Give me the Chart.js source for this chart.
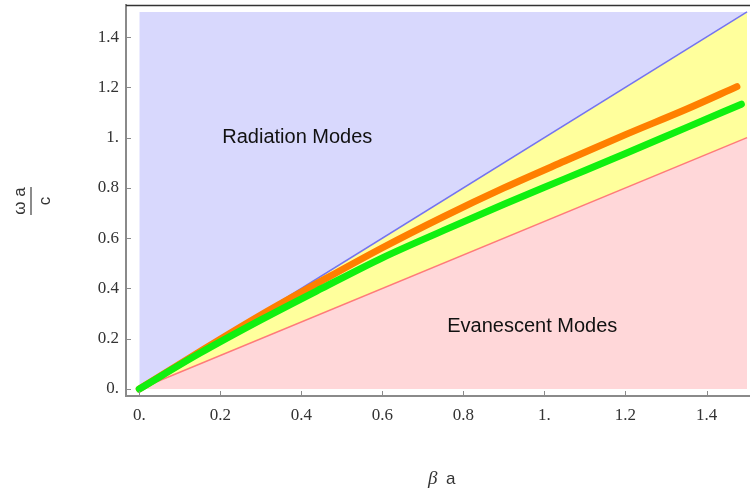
<!DOCTYPE html>
<html>
<head>
<meta charset="utf-8">
<script src="https://cdn.jsdelivr.net/npm/chart.js@4"></script>
<style>
  body { margin: 0; background: #fff; }
  canvas { display: block; }
</style>
</head>
<body>
<canvas id="modeChart" width="750" height="493"></canvas>
<script>
// Axis ticks (Mathematica style labels)
const tickValues = [0, 0.2, 0.4, 0.6, 0.8, 1, 1.2, 1.4];
const tickLabels = ["0.", "0.2", "0.4", "0.6", "0.8", "1.", "1.2", "1.4"];

// Region boundaries
const regionX = [0, 1.5];
const topEdgeY = [1.5, 1.5];
const lightLineY = [0, 1.5];
const lowerLineY = [0, 1.0];
const floorY = [0, 0];

// Dispersion curves
const orangeX = [0, 0.15, 0.3, 0.45, 0.6, 0.75, 0.9, 1.05, 1.2, 1.35, 1.475];
const orangeY = [0, 0.149, 0.294, 0.43, 0.562, 0.685, 0.8, 0.907, 1.012, 1.113, 1.203];
const greenX = [0, 0.15, 0.3, 0.45, 0.6, 0.75, 0.9, 1.05, 1.2, 1.35, 1.486];
const greenY = [0, 0.143, 0.275, 0.4, 0.522, 0.63, 0.735, 0.836, 0.937, 1.04, 1.133];

const toPoints = (xs, ys) => xs.map((x, i) => ({ x: x, y: ys[i] }));

const ctx = document.getElementById("modeChart").getContext("2d");

// draws inward ticks, top frame line, annotations and axis titles
const decorations = {
  id: "decorations",
  afterDraw(chart) {
    const c = chart.ctx;
    const xs = chart.scales.x;
    const ys = chart.scales.y;
    const area = chart.chartArea;
    c.save();

    // inward tick marks
    c.strokeStyle = "#8a8a8a";
    c.lineWidth = 1;
    tickValues.forEach((v) => {
      const py = Math.round(ys.getPixelForValue(v)) + 0.5;
      c.beginPath();
      c.moveTo(area.left, py);
      c.lineTo(area.left + 5, py);
      c.stroke();
      const px = Math.round(xs.getPixelForValue(v)) + 0.5;
      c.beginPath();
      c.moveTo(px, area.bottom);
      c.lineTo(px, area.bottom - 5);
      c.stroke();
    });

    // top frame line
    c.strokeStyle = "#333";
    c.lineWidth = 1.5;
    c.beginPath();
    c.moveTo(area.left, area.top + 0.5);
    c.lineTo(area.right, area.top + 0.5);
    c.stroke();

    // region labels
    c.fillStyle = "#111";
    c.font = "20px 'Liberation Sans', Arial, sans-serif";
    c.textAlign = "center";
    c.textBaseline = "middle";
    c.fillText("Radiation Modes", xs.getPixelForValue(0.39), ys.getPixelForValue(1.0));
    c.fillText("Evanescent Modes", xs.getPixelForValue(0.97), ys.getPixelForValue(0.25));

    // y title: fraction (omega a / c) rotated
    c.save();
    c.translate(31, 201);
    c.rotate(-Math.PI / 2);
    c.fillStyle = "#333";
    c.strokeStyle = "#666";
    c.lineWidth = 1.5;
    c.beginPath();
    c.moveTo(-14, 0);
    c.lineTo(14, 0);
    c.stroke();
    c.textAlign = "center";
    c.textBaseline = "alphabetic";
    c.font = "17px 'Liberation Sans', Arial, sans-serif";
    c.fillText("\u03c9 a", 0, -6);
    c.textBaseline = "top";
    c.fillText("c", 0, 6);
    c.restore();

    // x title
    c.fillStyle = "#333";
    c.textBaseline = "alphabetic";
    c.textAlign = "left";
    c.font = "italic 19px 'Liberation Serif', 'DejaVu Serif', serif";
    c.fillText("\u03b2", 428, 484);
    c.font = "17px 'Liberation Sans', Arial, sans-serif";
    c.fillText("a", 446, 484);

    c.restore();
  },
};

const data = {
  datasets: [
    {
      // top boundary of the plotted region
      data: toPoints(regionX, topEdgeY),
      borderWidth: 0,
      borderColor: "rgba(0,0,0,0)",
      pointRadius: 0,
      fill: false,
      order: 5,
    },
    {
      // light line
      data: toPoints(regionX, lightLineY),
      borderColor: "#7474f0",
      borderWidth: 1.5,
      backgroundColor: "#d8d8fd",
      pointRadius: 0,
      fill: { target: 0 },
      order: 4,
    },
    {
      // lower boundary line
      data: toPoints(regionX, lowerLineY),
      borderColor: "#ff7a7a",
      borderWidth: 1.5,
      backgroundColor: "#ffff9c",
      pointRadius: 0,
      fill: { target: 1 },
      order: 3,
    },
    {
      // floor
      data: toPoints(regionX, floorY),
      borderWidth: 0,
      borderColor: "rgba(0,0,0,0)",
      backgroundColor: "#ffd7d9",
      pointRadius: 0,
      fill: { target: 2 },
      order: 6,
    },
    {
      data: toPoints(orangeX, orangeY),
      borderColor: "#ff7f00",
      borderWidth: 7,
      borderCapStyle: "round",
      borderJoinStyle: "round",
      pointRadius: 0,
      fill: false,
      cubicInterpolationMode: "monotone",
      order: 1,
    },
    {
      data: toPoints(greenX, greenY),
      borderColor: "#10f010",
      borderWidth: 7,
      borderCapStyle: "round",
      borderJoinStyle: "round",
      pointRadius: 0,
      fill: false,
      cubicInterpolationMode: "monotone",
      order: 0,
    },
    {
      // dot at the origin
      data: toPoints([0], [0]),
      showLine: false,
      pointRadius: 2.5,
      pointBackgroundColor: "#c0309a",
      pointBorderWidth: 0,
      order: 2,
    },
  ],
};

const config = {
  type: "line",
  data: data,
  options: {
    responsive: false,
    animation: false,
    layout: { autoPadding: false, padding: { top: 5, left: 0, right: 0, bottom: 0 } },
    scales: {
      x: {
        type: "linear",
        min: -0.0328,
        max: 1.5073,
        afterFit: (scale) => {
          scale.height = 97;
          scale.paddingLeft = 0;
          scale.paddingRight = 0;
        },
        afterBuildTicks: (scale) => { scale.ticks = tickValues.map((v) => ({ value: v })); },
        grid: { display: false, drawTicks: false },
        border: { display: true, color: "#8a8a8a", width: 2 },
        ticks: {
          padding: 9,
          color: "#333",
          font: { family: "'Liberation Serif', 'DejaVu Serif', serif", size: 17 },
          callback: (v) => tickLabels[tickValues.indexOf(v)],
        },
      },
      y: {
        type: "linear",
        min: -0.0279,
        max: 1.5278,
        afterFit: (scale) => {
          scale.width = 126;
          scale.paddingTop = 0;
          scale.paddingBottom = 0;
        },
        afterBuildTicks: (scale) => { scale.ticks = tickValues.map((v) => ({ value: v })); },
        grid: { display: false, drawTicks: false },
        border: { display: true, color: "#8a8a8a", width: 2 },
        ticks: {
          padding: 7,
          color: "#333",
          font: { family: "'Liberation Serif', 'DejaVu Serif', serif", size: 17 },
          callback: (v) => tickLabels[tickValues.indexOf(v)],
        },
      },
    },
    plugins: {
      legend: { display: false },
      tooltip: { enabled: false },
      filler: { drawTime: "beforeDatasetsDraw" },
    },
  },
  plugins: [decorations],
};

new Chart(ctx, config);
</script>
</body>
</html>
